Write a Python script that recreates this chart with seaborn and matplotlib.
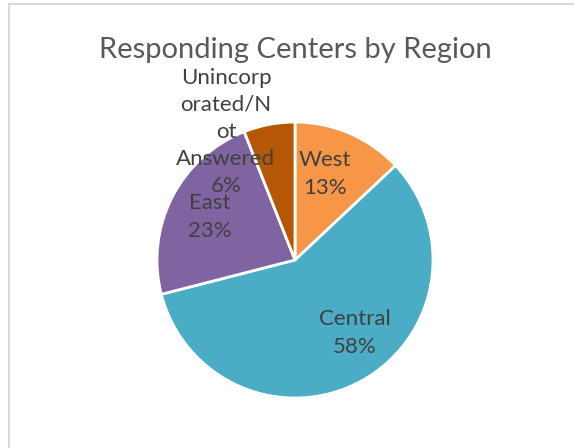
import matplotlib
matplotlib.use("Agg")
import matplotlib.pyplot as plt
import seaborn as sns
from matplotlib.lines import Line2D

# data
regions = ["West", "Central", "East", "Unincorp\norated/N\not\nAnswered"]
shares = [13, 58, 23, 6]
colors = ["#F79646", "#4BACC6", "#8064A2", "#B65708"]

# label block centres (pie axes units, radius = 1)
label_xy = [(0.217, 0.623), (0.435, -0.529), (-0.616, 0.312), (-0.50, 0.928)]

sns.set_theme(style="white")
plt.rcParams["font.family"] = ["Lato", "DejaVu Sans"]

W, H = 574, 448
fig = plt.figure(figsize=(W / 100, H / 100), dpi=100)
fig.patch.set_facecolor("white")

cx, cy, r = 295, 260, 138
ax = fig.add_axes([(cx - r) / W, (H - cy - r) / H, 2 * r / W, 2 * r / H])
ax.pie(shares, colors=sns.color_palette(colors), startangle=90, counterclock=False,
       radius=1, wedgeprops=dict(edgecolor="white", linewidth=2))
ax.set_xlim(-1, 1)
ax.set_ylim(-1, 1)
ax.set_aspect("equal")
ax.axis("off")

for name, pct, (x, y) in zip(regions, shares, label_xy):
    ax.text(x, y, f"{name}\n{pct}%", ha="center", va="center", fontsize=16,
            color="#404040", linespacing=1.45)

fig.text(cx / W, 1 - 50 / H, "Responding Centers by Region", ha="center", va="center",
         fontsize=21, color="#595959")

# light frame (only top and left edges fall in view)
fig.add_artist(Line2D([9 / W, 9 / W], [0, 1 - 4.5 / H], color="#D9D9D9", lw=1.5))
fig.add_artist(Line2D([9 / W, 1], [1 - 4.5 / H, 1 - 4.5 / H], color="#D9D9D9", lw=1.5))

fig.savefig("out.png", dpi=100, facecolor="white")
